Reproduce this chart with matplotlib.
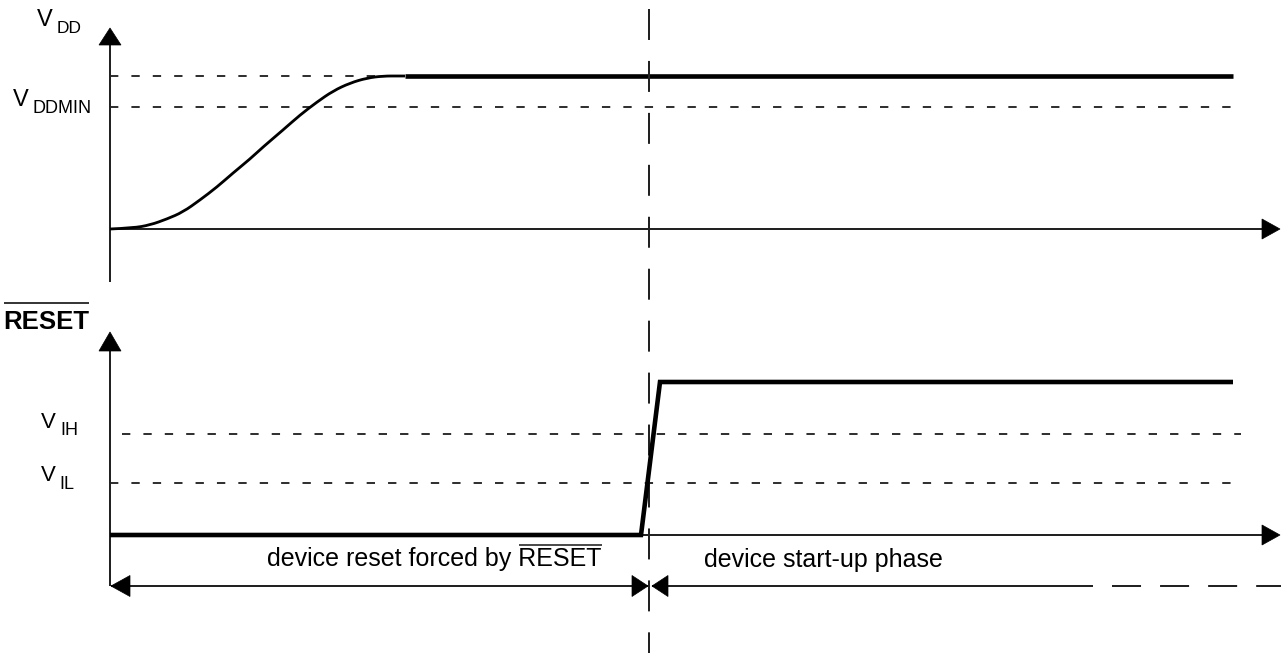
import matplotlib
matplotlib.use("Agg")
import matplotlib.pyplot as plt
from matplotlib.patches import Polygon, PathPatch
from matplotlib.path import Path

plt.rcParams["font.family"] = ["Liberation Sans", "DejaVu Sans"]
plt.rcParams["lines.scale_dashes"] = False

# ---- signal data (time in diagram units from the origin, levels above each baseline) ----
# VDD supply ramp up to its nominal level
vdd_rise_t = [0, 23, 40, 57, 73, 90, 107, 123, 140, 153, 173, 190, 207, 223, 240, 257, 273, 290, 295]
vdd_rise_v = [0, 1, 4, 10, 17, 29, 42, 56, 70, 82, 99, 114, 127, 138, 146, 151, 153, 153, 153]
vdd_settled_t = [295, 1123]
VDD_NOM = 153
VDD_MIN = 122

# RESET pin: held low, released at T_RELEASE
reset_t = [0, 531, 550, 1123]
reset_v = [0, 0, 153, 153]
VIH = 101
VIL = 52
T_RELEASE = 539
T_END_TIME = 1171

level_labels_top = [("V", "DD"), ("V", "DDMIN")]
level_labels_bot = [("V", "IH"), ("V", "IL")]
phase_labels = ["device reset forced by ", "RESET", "device start-up phase"]

PX = 0.72  # points per pixel at 100 dpi

fig = plt.figure(figsize=(12.81, 6.53), dpi=100)
fig.patch.set_facecolor("white")


def panel(base, name):
    ax = fig.add_axes([0, 0, 1, 1], label=name)
    ax.set_xlim(-110, T_END_TIME)
    ax.set_ylim(base - 653, base)
    ax.axis("off")
    ax.patch.set_alpha(0)
    return ax


ax_v = panel(229, "vdd")
ax_r = panel(535, "reset")


def head(ax, tip, base, hw):
    (tx, ty), (bx, by) = tip, base
    dx, dy = tx - bx, ty - by
    n = (dx * dx + dy * dy) ** 0.5
    px, py = -dy / n * hw, dx / n * hw
    ax.add_patch(Polygon([(tx, ty), (bx + px, by + py), (bx - px, by - py)],
                         closed=True, facecolor="black", edgecolor="black",
                         linewidth=0.5, zorder=5))


def smooth_path(xs, ys):
    """Quadratic-spline path that uses the sample points as control points."""
    pts = list(zip(xs, ys))
    verts = [pts[0]]
    codes = [Path.MOVETO]
    for i in range(1, len(pts) - 1):
        mid = ((pts[i][0] + pts[i + 1][0]) / 2, (pts[i][1] + pts[i + 1][1]) / 2)
        verts += [pts[i], mid]
        codes += [Path.CURVE3, Path.CURVE3]
    verts.append(pts[-1])
    codes.append(Path.LINETO)
    return Path(verts, codes)


axis_kw = dict(color="#222222", linewidth=2 * PX, solid_capstyle="butt", zorder=3)
short_dash = dict(color="black", linewidth=1.6 * PX, linestyle=(0, (6.0, 9.4)), zorder=2)
thick = dict(color="black", linewidth=4.6 * PX, solid_capstyle="butt",
             solid_joinstyle="miter", zorder=4)

# ---------------- VDD panel ----------------
ax_v.plot([0, 0], [185, -53], **axis_kw)
head(ax_v, (0, 201), (0, 184), 11)
ax_v.plot([0, 1152], [0, 0], **axis_kw)
head(ax_v, (1170, 0), (1152, 0), 10)

ax_v.plot([0, 535], [VDD_NOM, VDD_NOM], **short_dash)
ax_v.plot([0, 1131], [VDD_MIN, VDD_MIN], **short_dash)

ax_v.add_patch(PathPatch(smooth_path(vdd_rise_t, vdd_rise_v), facecolor="none",
                         edgecolor="black", linewidth=2.8 * PX, capstyle="butt", zorder=4))
ax_v.plot(vdd_settled_t, [VDD_NOM, VDD_NOM], **thick)

ax_v.text(-73, 203, level_labels_top[0][0], fontsize=17, va="baseline", ha="left")
ax_v.text(-53, 196, level_labels_top[0][1], fontsize=12.5, va="baseline", ha="left")
ax_v.text(-97, 123, level_labels_top[1][0], fontsize=17, va="baseline", ha="left")
ax_v.text(-78, 116, level_labels_top[1][1], fontsize=13, va="baseline", ha="left")

# ---------------- RESET panel ----------------
ax_r.plot([0, 0], [185, -51], **axis_kw)
head(ax_r, (0, 203), (0, 184), 11)
ax_r.plot([0, 1152], [0, 0], **axis_kw)
head(ax_r, (1170, 0), (1152, 0), 10)

ax_r.plot([12, 1131], [VIH, VIH], **short_dash)
ax_r.plot([0, 1131], [VIL, VIL], **short_dash)

ax_r.plot(reset_t, reset_v, **thick)

# release marker crossing both panels
ax_r.plot([T_RELEASE, T_RELEASE], [526, -118], color="#222222", linewidth=2 * PX,
          linestyle=(0, (22.3, 15.1)), zorder=3)

# phase duration arrows
ya = -51
ax_r.plot([1, T_RELEASE - 1], [ya, ya], **axis_kw)
head(ax_r, (1, ya), (20, ya), 10.5)
head(ax_r, (T_RELEASE - 1, ya), (T_RELEASE - 17, ya), 10.5)
head(ax_r, (T_RELEASE + 3, ya), (T_RELEASE + 19, ya), 10.5)
ax_r.plot([T_RELEASE + 3, 983], [ya, ya], **axis_kw)
ax_r.plot([1002, T_END_TIME], [ya, ya], color="#222222", linewidth=2 * PX,
          linestyle=(0, (20.9, 13.7)), zorder=3)

ax_r.text(-69, 107, level_labels_bot[0][0], fontsize=16, va="baseline", ha="left")
ax_r.text(-50, 100, level_labels_bot[0][1], fontsize=13, va="baseline", ha="left")
ax_r.text(-69, 54, level_labels_bot[1][0], fontsize=16, va="baseline", ha="left")
ax_r.text(-51, 46, level_labels_bot[1][1], fontsize=13, va="baseline", ha="left")

title = ax_r.text(-107, 206, phase_labels[1], fontsize=18.5, fontweight="bold",
                  va="baseline", ha="left")
sentence = ax_r.text(157, -31, phase_labels[0] + phase_labels[1], fontsize=18,
                     va="baseline", ha="left")
word = ax_r.text(0, 0, phase_labels[1], fontsize=18, alpha=0)
ax_r.text(594, -32, phase_labels[2], fontsize=18, va="baseline", ha="left")

# overlines
fig.canvas.draw()
r = fig.canvas.get_renderer()
inv = ax_r.transData.inverted()

bb = title.get_window_extent(r)
x0, _ = inv.transform((bb.x0, bb.y0))
x1, _ = inv.transform((bb.x1, bb.y0))
ax_r.plot([x0 + 1, x1], [232, 232], color="#222222", linewidth=1.8 * PX, solid_capstyle="butt")

bb = sentence.get_window_extent(r)
wb = word.get_window_extent(r)
x1, _ = inv.transform((bb.x1, bb.y0))
xw0, _ = inv.transform((wb.x0, wb.y0))
xw1, _ = inv.transform((wb.x1, wb.y0))
ax_r.plot([x1 - (xw1 - xw0) + 1, x1], [-10, -10], color="#222222",
          linewidth=1.6 * PX, solid_capstyle="butt")

fig.savefig("out.png", dpi=100, facecolor="white")
